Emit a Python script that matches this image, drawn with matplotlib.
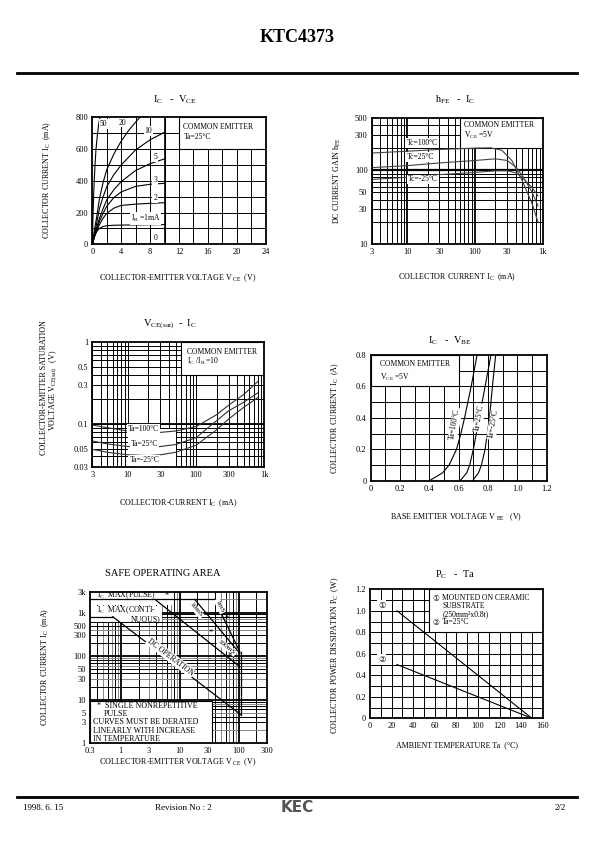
import matplotlib
matplotlib.use('Agg')
import matplotlib.pyplot as plt
import numpy as np
from matplotlib.patches import Rectangle

plt.rcParams['font.family'] = ['Liberation Serif', 'DejaVu Sans']
plt.rcParams['mathtext.fontset'] = 'custom'
plt.rcParams['mathtext.rm'] = 'Liberation Serif'
plt.rcParams['mathtext.it'] = 'Liberation Serif:italic'
plt.rcParams['mathtext.bf'] = 'Liberation Serif:bold'

# ---------------- data ----------------
# Ic - Vce
vce_pts = [0, 0.3, 0.6, 1, 1.5, 2, 3, 4, 6, 8, 10]
ic_ib1 = [0, 50, 80, 100, 112, 117, 120, 121, 122, 123, 124]
ic_ib2 = [0, 45, 85, 125, 165, 195, 228, 245, 253, 258, 262]
ic_ib3 = [0, 50, 95, 145, 195, 240, 295, 330, 365, 378, 384]
ic_ib5 = [0, 55, 105, 165, 225, 280, 345, 395, 465, 508, 538]
ic_ib10 = [0, 70, 130, 227, 300, 363, 440, 500, 595, 658, 706]
vce_ib20 = [0, 0.3, 0.6, 1, 1.5, 2, 3, 4, 5, 6, 6.6]
ic_ib20 = [0, 90, 170, 290, 390, 470, 570, 650, 715, 770, 800]
vce_ib50 = [0, 0.1, 0.2, 0.35, 0.5, 0.7, 0.9, 1.05]
ic_ib50 = [0, 180, 330, 480, 590, 690, 760, 800]

# hFE - Ic
hfe_ic = [3, 10, 30, 100, 170, 250, 350, 500, 700, 850]
hfe_100 = [170, 180, 190, 198, 200, 185, 135, 72, 35, 20]
hfe_ic2 = [3, 10, 30, 100, 200, 300, 400, 500, 700, 850]
hfe_25 = [108, 115, 125, 135, 142, 135, 110, 85, 50, 33]
hfe_m25 = [75, 80, 87, 93, 98, 98, 92, 80, 58, 45]

# Vce(sat) - Ic
sat_ic = [3, 5, 10, 20, 30, 50, 100, 200, 300, 500, 800]
sat_100 = [0.097, 0.09, 0.082, 0.078, 0.079, 0.082, 0.093, 0.13, 0.17, 0.23, 0.33]
sat_25 = [0.062, 0.057, 0.053, 0.052, 0.053, 0.056, 0.068, 0.11, 0.145, 0.185, 0.24]
sat_m25 = [0.049, 0.045, 0.042, 0.041, 0.042, 0.045, 0.055, 0.085, 0.115, 0.16, 0.21]

# Ic - Vbe
vbe_ic = [0, 0.05, 0.1, 0.2, 0.3, 0.4, 0.6, 0.8]
vbe_100 = [0.40, 0.49, 0.535, 0.585, 0.615, 0.64, 0.685, 0.725]
vbe_25 = [0.61, 0.655, 0.675, 0.70, 0.72, 0.74, 0.78, 0.82]
vbe_m25 = [0.695, 0.735, 0.755, 0.78, 0.795, 0.81, 0.83, 0.852]

# SOA
soa_pulse_v = [0.3, 39]
soa_pulse_i = [2000, 2000]
soa_cont_v = [0.3, 0.73]
soa_cont_i = [800, 800]
soa_dc_v = [0.73, 110]
soa_dc_i = [800, 4.5]
soa_100ms_v = [3.8, 105]
soa_100ms_i = [2000, 57]
soa_10ms_v = [18, 105]
soa_10ms_i = [2000, 115]
soa_1ms_v = [39, 105]
soa_1ms_i = [2000, 125]
soa_vceo_v = [110, 110]
soa_vceo_i = [4.5, 125]

# Pc - Ta
pc_ta = [25, 150]
pc_1 = [1.0, 0.0]
pc_2 = [0.5, 0.0]

# ---------------- figure ----------------
W, H = 595, 842
fig = plt.figure(figsize=(W / 100, H / 100), dpi=100)
fig.patch.set_facecolor('white')


def add_ax(x0, x1, y0, y1):
    return fig.add_axes([x0 / W, 1 - y1 / H, (x1 - x0) / W, (y1 - y0) / H])


def ft(x, y, s, **kw):
    kw.setdefault('ha', 'center')
    kw.setdefault('va', 'center')
    fig.text(x / W, 1 - y / H, s, **kw)


def style(ax):
    for sp in ax.spines.values():
        sp.set_linewidth(1.3)
        sp.set_zorder(6)
    ax.tick_params(length=0, labelsize=6, pad=3)


def gridlines(ax, xs, ys, lw=0.7, color='k'):
    for x in xs:
        ax.axvline(x, color=color, lw=lw, zorder=1)
    for y in ys:
        ax.axhline(y, color=color, lw=lw, zorder=1)


def wbox(ax, x0, x1, y0, y1, ec='black'):
    ax.add_patch(Rectangle((x0, y0), x1 - x0, y1 - y0, facecolor='white',
                           edgecolor=ec, lw=0.8, zorder=2))


def lbl(ax, x, y, s, size=5.5, **kw):
    kw.setdefault('ha', 'center')
    kw.setdefault('va', 'center')
    ax.text(x, y, s, fontsize=size, zorder=5,
            bbox=dict(fc='white', ec='none', pad=0.6), **kw)


def txt(ax, x, y, s, size=5.5, **kw):
    kw.setdefault('ha', 'left')
    kw.setdefault('va', 'center')
    ax.text(x, y, s, fontsize=size, zorder=5, **kw)


def angle(ax, p0, p1):
    a = ax.transData.transform(p0)
    b = ax.transData.transform(p1)
    return np.degrees(np.arctan2(b[1] - a[1], b[0] - a[0]))


# header / footer
ft(297, 38, 'KTC4373', fontsize=13, fontweight='bold')
fig.add_artist(plt.Line2D([17 / W, 577 / W], [1 - 73 / H, 1 - 73 / H], color='k', lw=2))
fig.add_artist(plt.Line2D([17 / W, 577 / W], [1 - 797 / H, 1 - 797 / H], color='k', lw=2))
ft(23, 808, '1998. 6. 15', fontsize=6.5, ha='left')
ft(155, 808, 'Revision No : 2', fontsize=6.5, ha='left')
ft(297, 807, 'KEC', fontsize=11, fontweight='bold', family='DejaVu Sans', color='#555555')
ft(566, 808, '2/2', fontsize=6.5, ha='right')

lc = 'black'

# ---------- chart 1: Ic - Vce ----------
ax = add_ax(92.3, 265.7, 117.3, 244.3)
style(ax)
ax.set_xlim(0, 24)
ax.set_ylim(0, 800)
gridlines(ax, range(2, 24, 2), range(100, 800, 100))
ax.axvline(10, color='k', lw=1.2, zorder=1)
wbox(ax, 12, 24, 600, 800)
for v, i in [(vce_pts, ic_ib1), (vce_pts, ic_ib2), (vce_pts, ic_ib3), (vce_pts, ic_ib5),
             (vce_pts, ic_ib10), (vce_ib20, ic_ib20), (vce_ib50, ic_ib50)]:
    ax.plot(v, i, color=lc, lw=0.8, zorder=3)
ax.plot([0, 10], [2, 2], color=lc, lw=0.8, zorder=3)
ax.set_xticks([0, 4, 8, 12, 16, 20, 24])
ax.set_yticks([0, 200, 400, 600, 800])
lbl(ax, 1.55, 756, '50')
lbl(ax, 4.2, 767, '20')
lbl(ax, 7.75, 712, '10')
lbl(ax, 8.7, 552, '5')
lbl(ax, 8.7, 405, '3')
lbl(ax, 8.7, 290, '2')
lbl(ax, 7.4, 164, r'I$_{\rm B}$ =1mA')
lbl(ax, 8.7, 38, '0')
txt(ax, 12.6, 738, 'COMMON EMITTER')
txt(ax, 12.6, 674, 'Ta=25°C')
ft(175, 100, r'I$_{\rm C}$   -  V$_{\rm CE}$', fontsize=7.5)
ft(47, 180, r'COLLECTOR CURRENT I$_{\rm C}$  (mA)', fontsize=5.8, rotation=90)
ft(178, 278, r'COLLECTOR-EMITTER VOLTAGE V$_{\rm \ CE}$  (V)', fontsize=5.8)

# ---------- chart 2: hFE - Ic ----------
ax = add_ax(371.7, 542.7, 118.3, 244.3)
style(ax)
ax.set_xscale('log')
ax.set_yscale('log')
ax.set_xlim(3, 1000)
ax.set_ylim(10, 500)
xs = [3, 4, 5, 6, 7, 8, 9, 20, 30, 40, 50, 60, 70, 80, 90, 200, 300, 400, 500, 600, 700, 800, 900]
ys = [20, 30, 40, 50, 60, 70, 80, 90, 200, 300, 400]
gridlines(ax, xs, ys)
ax.axvline(10, color='k', lw=1.3, zorder=1)
ax.axvline(100, color='k', lw=1.3, zorder=1)
ax.axhline(100, color='k', lw=1.6, zorder=1)
wbox(ax, 60, 1000, 200, 500)
ax.plot(hfe_ic, hfe_100, color='#444444', lw=0.8, zorder=3)
ax.plot(hfe_ic2, hfe_25, color='#444444', lw=0.8, zorder=3)
ax.plot(hfe_ic2, hfe_m25, color='#444444', lw=0.8, zorder=3)
ax.set_xticks([3, 10, 30, 100, 300, 1000])
ax.set_xticklabels(['3', '10', '30', '100', '30', '1k'])
ax.set_yticks([10, 30, 50, 100, 300, 500])
ax.set_yticklabels(['10', '30', '50', '100', '300', '500'])
ax.minorticks_off()
lbl(ax, 17, 232, 'Tc=100°C')
lbl(ax, 16, 150, 'Tc=25°C')
lbl(ax, 17, 75, 'Tc=-25°C')
txt(ax, 70, 400, 'COMMON EMITTER')
txt(ax, 70, 297, r'V$_{\rm CE}$ =5V')
ft(455, 100, r'h$_{\rm FE}$   -  I$_{\rm C}$', fontsize=7.5)
ft(337, 181, r'DC CURRENT GAIN h$_{\rm FE}$', fontsize=5.8, rotation=90)
ft(457, 277, r'COLLECTOR CURRENT I$_{\rm C}$  (mA)', fontsize=5.8)

# ---------- chart 3: Vce(sat) - Ic ----------
ax = add_ax(92.3, 264.3, 342.3, 466.7)
style(ax)
ax.set_xscale('log')
ax.set_yscale('log')
ax.set_xlim(3, 1000)
ax.set_ylim(0.03, 1)
xs = [3, 4, 5, 6, 7, 8, 9, 10, 20, 30, 40, 50, 60, 70, 80, 90, 100, 200, 300, 400, 500, 600, 700, 800, 900]
ys = [0.04, 0.05, 0.06, 0.07, 0.08, 0.09, 0.1, 0.2, 0.3, 0.4, 0.5, 0.6, 0.7, 0.8, 0.9]
gridlines(ax, xs, ys)
ax.axhline(0.1, color='k', lw=1.3, zorder=1)
wbox(ax, 60, 1000, 0.4, 1)
wbox(ax, 10, 50, 0.03, 0.088, ec='none')
ax.plot(sat_ic, sat_100, color='#333333', lw=0.8, zorder=3)
ax.plot(sat_ic, sat_25, color='#333333', lw=0.8, zorder=3)
ax.plot(sat_ic, sat_m25, color='#333333', lw=0.8, zorder=3)
ax.set_xticks([3, 10, 30, 100, 300, 1000])
ax.set_xticklabels(['3', '10', '30', '100', '300', '1k'])
ax.set_yticks([0.03, 0.05, 0.1, 0.3, 0.5, 1])
ax.set_yticklabels(['0.03', '0.05', '0.1', '0.3', '0.5', '1'])
ax.minorticks_off()
lbl(ax, 17, 0.086, 'Ta=100°C')
lbl(ax, 17.5, 0.057, 'Ta=25°C')
lbl(ax, 17.5, 0.036, 'Ta=-25°C')
txt(ax, 73, 0.77, 'COMMON EMITTER')
txt(ax, 73, 0.58, r'I$_{\rm C}$ /I$_{\rm B}$ =10')
ft(170, 324, r'V$_{\rm CE(sat)}$  -  I$_{\rm C}$', fontsize=7.5)
ft(44, 388, 'COLLECTOR-EMITTER SATURATION', fontsize=5.8, rotation=90)
ft(54, 390, r'VOLTAGE V$_{\rm CE(sat)}$   (V)', fontsize=5.8, rotation=90)
ft(178, 503, r'COLLECTOR-CURRENT I$_{\rm C}$  (mA)', fontsize=5.8)

# ---------- chart 4: Ic - Vbe ----------
ax = add_ax(370.7, 546.7, 355, 480.7)
style(ax)
ax.set_xlim(0, 1.2)
ax.set_ylim(0, 0.8)
gridlines(ax, np.arange(0.1, 1.2, 0.1), np.arange(0.1, 0.8, 0.1))
wbox(ax, 0, 0.6, 0.6, 0.8)
ax.plot(vbe_100, vbe_ic, color=lc, lw=0.8, zorder=3)
ax.plot(vbe_25, vbe_ic, color=lc, lw=0.8, zorder=3)
ax.plot(vbe_m25, vbe_ic, color=lc, lw=0.8, zorder=3)
ax.set_xticks([0, 0.2, 0.4, 0.6, 0.8, 1.0, 1.2])
ax.set_xticklabels(['0', '0.2', '0.4', '0.6', '0.8', '1.0', '1.2'])
ax.set_yticks([0, 0.2, 0.4, 0.6, 0.8])
ax.set_yticklabels(['0', '0.2', '0.4', '0.6', '0.8'])
lbl(ax, 0.575, 0.36, 'Ta=100°C', rotation=80)
lbl(ax, 0.738, 0.40, 'Ta=25°C', rotation=80)
lbl(ax, 0.836, 0.36, 'Ta=-25°C', rotation=80)
txt(ax, 0.06, 0.745, 'COMMON EMITTER')
txt(ax, 0.06, 0.66, r'V$_{\rm CE}$ =5V')
ft(450, 341, r'I$_{\rm C}$   -  V$_{\rm BE}$', fontsize=7.5)
ft(335, 418, r'COLLECTOR CURRENT I$_{\rm C}$  (A)', fontsize=5.8, rotation=90)
ft(456, 517, r'BASE EMITTER VOLTAGE V$_{\rm \ BE}$   (V)', fontsize=5.8)

# ---------- chart 5: SOA ----------
ax = add_ax(90, 266.7, 591.7, 743.3)
style(ax)
ax.set_xscale('log')
ax.set_yscale('log')
ax.set_xlim(0.3, 300)
ax.set_ylim(1, 3000)
xs = [0.4, 0.5, 0.6, 0.7, 0.8, 0.9, 2, 3, 4, 5, 6, 7, 8, 9, 20, 30, 40, 50, 60, 70, 80, 90, 200]
ys = [2, 3, 4, 5, 6, 7, 8, 9, 20, 30, 40, 50, 60, 70, 80, 90, 200, 300, 400, 500, 600, 700, 800, 900, 2000]
for i, x in enumerate(xs):
    ax.axvline(x, color='#888888' if i % 2 else 'k', lw=0.7, zorder=1)
for i, y in enumerate(ys):
    ax.axhline(y, color='k' if i % 3 else '#888888', lw=0.7, zorder=1)
for x in [1, 10, 100]:
    ax.axvline(x, color='k', lw=1.3, zorder=1)
for y in [10, 100, 1000]:
    ax.axhline(y, color='k', lw=1.3, zorder=1)
wbox(ax, 0.3, 8, 1500, 3000, ec='none')
wbox(ax, 0.3, 5, 600, 1400, ec='none')
wbox(ax, 0.3, 36, 1, 9.5)
for v, i in [(soa_pulse_v, soa_pulse_i), (soa_cont_v, soa_cont_i), (soa_dc_v, soa_dc_i),
             (soa_100ms_v, soa_100ms_i), (soa_10ms_v, soa_10ms_i), (soa_1ms_v, soa_1ms_i),
             (soa_vceo_v, soa_vceo_i)]:
    ax.plot(v, i, color=lc, lw=0.9, zorder=3)
ax.set_xticks([0.3, 1, 3, 10, 30, 100, 300])
ax.set_xticklabels(['0.3', '1', '3', '10', '30', '100', '300'])
ax.set_yticks([1, 3, 5, 10, 30, 50, 100, 300, 500, 1000, 3000])
ax.set_yticklabels(['1', '3', '5', '10', '30', '50', '100', '300', '500', '1k', '3k'])
ax.minorticks_off()
txt(ax, 0.40, 2500, r'I$_{\rm C}$  MAX(PULSE)', size=5.6)
txt(ax, 5.6, 2350, '*', size=6)
txt(ax, 0.40, 1120, r'I$_{\rm C}$  MAX(CONTI-', size=5.6)
txt(ax, 1.45, 700, 'NUOUS)', size=5.6)
a_dc = angle(ax, (soa_dc_v[0], soa_dc_i[0]), (soa_dc_v[1], soa_dc_i[1]))
lbl(ax, 7.0, 95, 'DC OPERATION', size=5.6, rotation=a_dc)
a_100 = angle(ax, (soa_100ms_v[0], soa_100ms_i[0]), (soa_100ms_v[1], soa_100ms_i[1]))
lbl(ax, 63, 160, '100mS', size=5.2, rotation=a_100)
a_10 = angle(ax, (soa_10ms_v[0], soa_10ms_i[0]), (soa_10ms_v[1], soa_10ms_i[1]))
lbl(ax, 19, 1150, '10mS', size=5.2, rotation=a_10)
a_1 = angle(ax, (soa_1ms_v[0], soa_1ms_i[0]), (soa_1ms_v[1], soa_1ms_i[1]))
lbl(ax, 48, 1400, '1mS', size=5.2, rotation=a_1)
txt(ax, 34, 333, '*', size=6, ha='center')
txt(ax, 63, 700, '*', size=6, ha='center')
txt(ax, 71, 102, '*', size=6, ha='center')
txt(ax, 0.40, 7.2, '*  SINGLE NONREPETITIVE', size=5.8)
txt(ax, 0.52, 4.7, 'PULSE', size=5.8)
txt(ax, 0.34, 3.0, 'CURVES MUST BE DERATED', size=5.8)
txt(ax, 0.34, 1.95, 'LINEARLY WITH INCREASE', size=5.8)
txt(ax, 0.34, 1.25, 'IN TEMPERATURE', size=5.8)
ft(163, 574, 'SAFE OPERATING AREA', fontsize=7.5)
ft(45, 667, r'COLLECTOR CURRENT I$_{\rm C}$  (mA)', fontsize=5.8, rotation=90)
ft(178, 762, r'COLLECTOR-EMITTER VOLTAGE V$_{\rm \ CE}$  (V)', fontsize=5.8)

# ---------- chart 6: Pc - Ta ----------
ax = add_ax(370, 542.7, 589.3, 718.3)
style(ax)
ax.set_xlim(0, 160)
ax.set_ylim(0, 1.2)
gridlines(ax, range(10, 160, 10), np.arange(0.1, 1.2, 0.1))
wbox(ax, 55, 160, 0.8, 1.2)
ax.plot(pc_ta, pc_1, color=lc, lw=0.8, zorder=3)
ax.plot(pc_ta, pc_2, color=lc, lw=0.8, zorder=3)
ax.set_xticks(range(0, 161, 20))
ax.set_yticks([0, 0.2, 0.4, 0.6, 0.8, 1.0, 1.2])
ax.set_yticklabels(['0', '0.2', '0.4', '0.6', '0.8', '1.0', '1.2'])
lbl(ax, 10.8, 1.05, '①', size=6, family=['DejaVu Sans'])
lbl(ax, 10.8, 0.55, '②', size=6, family=['DejaVu Sans'])
txt(ax, 58, 1.116, '①', size=5.5, family=['DejaVu Sans'])
txt(ax, 67, 1.116, 'MOUNTED ON CERAMIC')
txt(ax, 67, 1.045, 'SUBSTRATE')
txt(ax, 67, 0.967, '(250mm²x0.8t)')
txt(ax, 58, 0.893, '②', size=5.5, family=['DejaVu Sans'])
txt(ax, 67, 0.893, 'Ta=25°C')
ft(455, 575, r'P$_{\rm C}$   -  Ta', fontsize=7.5)
ft(335, 655, r'COLLECTOR POWER DISSIPATION P$_{\rm C}$  (W)', fontsize=5.8, rotation=90)
ft(457, 745, 'AMBIENT TEMPERATURE Ta  (°C)', fontsize=5.8)

fig.savefig('out.png', dpi=100, facecolor='white')
